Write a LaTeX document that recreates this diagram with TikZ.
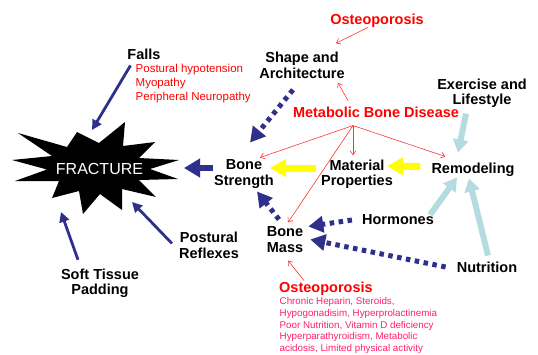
\documentclass[tikz,border=0pt]{standalone}
\usepackage{fontspec}
\setmainfont{Liberation Sans}
\usepackage{tikz}
\usetikzlibrary{arrows.meta}
\definecolor{navy}{HTML}{2F2F8C}
\definecolor{lightblue}{HTML}{B4DCE0}
\definecolor{hotyellow}{HTML}{FFFF00}
\definecolor{redline}{HTML}{FF3333}
\definecolor{pinkred}{HTML}{FF1F6A}
\begin{document}
\begin{tikzpicture}[
  x=1pt, y=-1pt,
  lbl/.style={font=\bfseries\fontsize{14.5}{15.5}\selectfont, align=center, inner sep=1pt},
  redlbl/.style={lbl, text=red},
  note/.style={font=\fontsize{11.5}{14}\selectfont, align=left, text=red, inner sep=0pt, anchor=west},
  cause/.style={font=\fontsize{9.8}{11.7}\selectfont, align=left, text=pinkred, inner sep=0pt, anchor=west},
  thinarr/.style={-{Triangle[length=10pt,width=10pt]}, line width=2.8pt, draw=navy},
  bigarr/.style={-{Triangle[length=16pt,width=18pt]}, line width=6pt, draw=navy},
  dotarr/.style={-{Triangle[length=15pt,width=16pt]}, line width=5pt, draw=navy, dash pattern=on 4.5pt off 4.5pt},
  yelarr/.style={-{Triangle[length=16pt,width=17pt]}, line width=7pt, draw=hotyellow},
  bluarr/.style={-{Triangle[length=13pt,width=15pt]}, line width=6pt, draw=lightblue},
  redarr/.style={-{Straight Barb[length=4pt,width=6pt]}, line width=0.6pt, draw=redline}
]
\useasboundingbox (0,0) rectangle (538,354);
\fill[black] (12,160) -- (52,156) -- (18,133) -- (67,147) -- (77,132) -- (99,143)
  -- (125,122) -- (123,146) -- (155,142) -- (139,158) -- (179,160) -- (150,169)
  -- (178,179) -- (139,180) -- (156,197) -- (122,189) -- (122,210) -- (100,194)
  -- (83,214) -- (79,191) -- (52,198) -- (59,181) -- (15,181) -- (47,169.5) -- cycle;
\node[font=\fontsize{16}{16}\selectfont, text=white, inner sep=1pt] (fracture) at (99.5,169) {FRACTURE};
\coordinate (frA) at (92,130);
\coordinate (frB) at (132,202);
\coordinate (frC) at (61,212);
\coordinate (frD) at (184,168);

\node[lbl] (falls) at (144,54) {Falls};
\node[note] (fallslist) at (135.5,84) {Postural hypotension\\Myopathy\\Peripheral Neuropathy};
\node[redlbl] (osteotop) at (377,20.5) {Osteoporosis};
\node[lbl] (shape) at (302,65.5) {Shape and\\Architecture};
\node[redlbl] (mbd) at (376,112) {Metabolic Bone Disease};
\node[lbl] (exercise) at (482,93) {Exercise and\\Lifestyle};
\node[lbl] (strength) at (244,174) {Bone\\Strength};
\node[lbl] (material) at (357,174) {Material\\Properties};
\node[lbl] (remodel) at (473,169.5) {Remodeling};
\node[lbl] (hormones) at (398,220) {Hormones};
\node[lbl] (mass) at (285,239.5) {Bone\\Mass};
\node[lbl] (nutrition) at (487,267) {Nutrition};
\node[lbl] (postural) at (209,245.5) {Postural\\Reflexes};
\node[lbl] (soft) at (100,283.5) {Soft Tissue\\Padding};
\node[redlbl, anchor=west] (osteobot) at (278,288.5) {Osteoporosis};
\node[cause] (causes) at (279.5,325.5) {Chronic Heparin, Steroids,\\Hypogonadisim, Hyperprolactinemia\\Poor Nutrition, Vitamin D deficiency\\Hyperparathyroidism, Metabolic\\acidosis, Limited physical activity};

\draw[thinarr] ([xshift=-5pt,yshift=-1pt]fallslist.north west) -- (frA);
\draw[thinarr] ([xshift=-6pt,yshift=2pt]postural.west) -- (frB);
\draw[thinarr] ([xshift=-22pt,yshift=8pt]soft.north) -- (frC);
\draw[bigarr] ([yshift=6pt]strength.west) -- (frD);

\draw[dotarr] ([xshift=-9pt,yshift=-10pt]shape.south) -- ([xshift=6pt,yshift=16pt]strength.north);
\draw[dotarr] ([xshift=-6pt,yshift=6pt]mass.north) -- ([xshift=13pt,yshift=-2pt]strength.south);
\draw[dotarr] ([xshift=-9pt]hormones.west) -- ([xshift=4pt,yshift=-1pt]mass.north east);
\draw[dotarr] ([xshift=-10pt]nutrition.west) -- ([xshift=6pt]mass.east);

\draw[yelarr] ([xshift=-4pt,yshift=6pt]material.west) -- ([xshift=-5pt,yshift=6pt]strength.east);
\draw[yelarr] ([xshift=-10pt,yshift=3pt]remodel.west) -- ([xshift=-7pt,yshift=8pt]material.east);

\draw[bluarr] ([xshift=-16pt,yshift=-5pt]exercise.south) -- ([xshift=-15pt,yshift=9pt]remodel.north);
\draw[bluarr] ([xshift=-5pt,yshift=-1pt]hormones.north east) -- ([xshift=-16pt]remodel.south);
\draw[bluarr] ([xshift=1pt,yshift=5pt]nutrition.north) -- ([xshift=-4pt,yshift=-1pt]remodel.south);

\draw[redarr] ([xshift=-9pt,yshift=1pt]osteotop.south) -- ([xshift=-10pt,yshift=8pt]shape.north east);
\draw[redarr] ([xshift=-28pt,yshift=5pt]mbd.north) -- ([xshift=-8pt,yshift=-3pt]shape.south east);
\draw[redarr] ([xshift=-23pt,yshift=-7pt]mbd.south) -- ([xshift=-15pt,yshift=1pt]strength.north east);
\draw[redarr] ([xshift=-23pt,yshift=-7pt]mbd.south) -- ([xshift=-4pt,yshift=3pt]material.north);
\draw[redarr] ([xshift=-23pt,yshift=-7pt]mbd.south) -- ([xshift=15pt,yshift=5pt]remodel.north west);
\draw[redarr] ([xshift=-23pt,yshift=-7pt]mbd.south) -- ([xshift=3pt,yshift=3pt]mass.north);
\draw[redarr] ([xshift=26pt]osteobot.north west) -- ([xshift=3pt,yshift=-7pt]mass.south);
\end{tikzpicture}
\end{document}
